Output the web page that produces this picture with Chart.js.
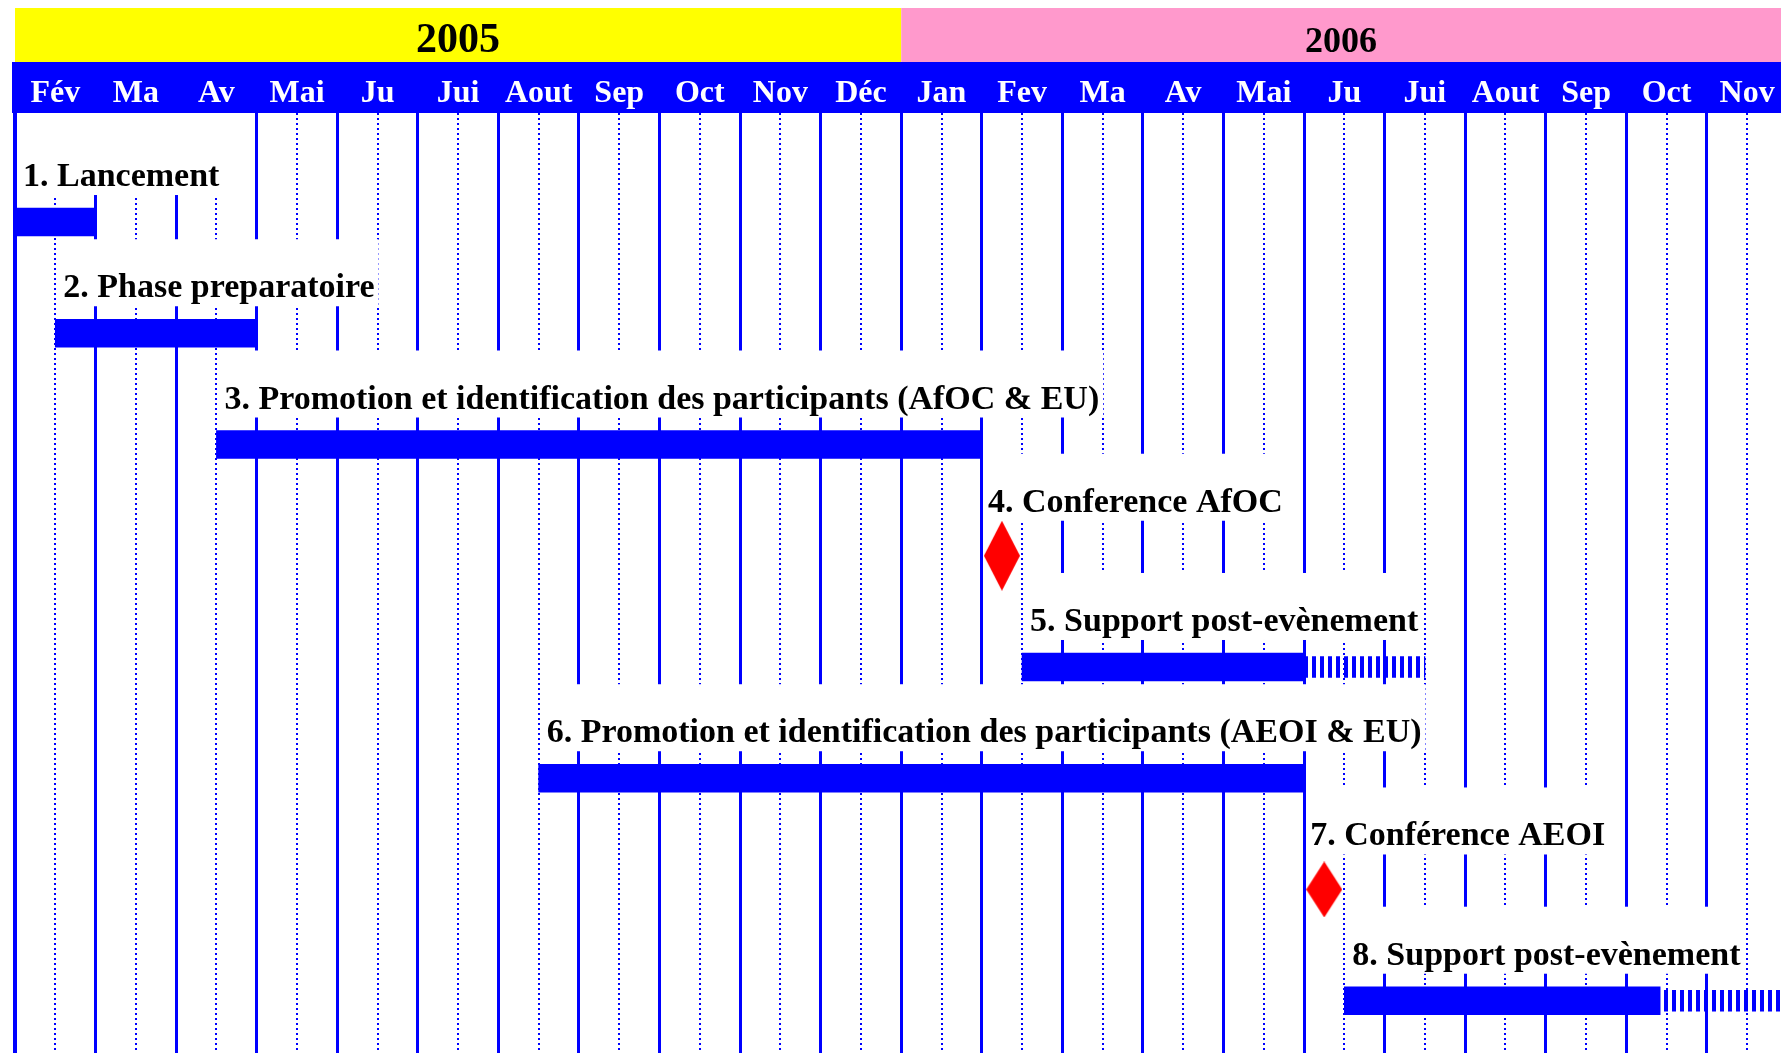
<!DOCTYPE html>
<html>
<head>
<meta charset="utf-8">
<script src="https://cdn.jsdelivr.net/npm/chart.js@4.4.1/dist/chart.umd.min.js"></script>
<style>
html,body{margin:0;padding:0;background:#fff;overflow:hidden}
canvas{display:block}
</style>
</head>
<body>
<canvas id="c" width="1781" height="1055"></canvas>
<script>
// ---------- data ----------
const months = ['Fév','Ma','Av','Mai','Ju','Jui','Aout','Sep','Oct','Nov','Déc',
                'Jan','Fev','Ma','Av','Mai','Ju','Jui','Aout','Sep','Oct','Nov'];
const years = ['2005', '2006'];
const yearStartMonth = [0, 11];
const taskNames = [
  '1. Lancement',
  '2. Phase preparatoire',
  '3. Promotion et identification des participants (AfOC & EU)',
  '4. Conference AfOC',
  '5. Support post-evènement',
  '6. Promotion et identification des participants (AEOI & EU)',
  '7. Conférence AEOI',
  '8. Support post-evènement'
];
// month offsets from 1 Feb 2005
const taskStart    = [0, 0.5, 2.5, null, 12.5, 6.5, null, 16.5];
const taskEnd      = [1, 3, 12, null, 16, 16, null, 20.42];
const extensionEnd = [null, null, null, null, 17.5, null, null, 22];
const milestoneAt  = [null, null, null, 12.25, null, null, 16.25, null];

// ---------- styles ----------
const BLUE = '#0000FF', RED = '#FF0000';
const yearColors = ['#FFFF00', '#FF99CC'];
const yearFontSize = [42, 36];
const SERIF = '"Liberation Serif", "Times New Roman", serif';

function diamond(w, h) {
  const c = document.createElement('canvas'); c.width = w; c.height = h;
  const g = c.getContext('2d'); g.fillStyle = RED; g.beginPath();
  g.moveTo(w / 2, 0); g.lineTo(w, h / 2); g.lineTo(w / 2, h); g.lineTo(0, h / 2);
  g.closePath(); g.fill();
  return c;
}
function stripes() {
  const c = document.createElement('canvas'); c.width = 8; c.height = 4;
  const g = c.getContext('2d'); g.fillStyle = BLUE; g.fillRect(0, 0, 4, 4);
  return g.createPattern(c, 'repeat');
}

const rows = taskNames.map((_, i) => i);
const solidData = rows.filter(i => taskStart[i] !== null).map(i => ({x: [taskStart[i], taskEnd[i]], y: i}));
const extData = rows.filter(i => extensionEnd[i] !== null).map(i => ({x: [taskEnd[i], extensionEnd[i]], y: i}));
const msData = rows.filter(i => milestoneAt[i] !== null).map(i => ({x: milestoneAt[i], y: i}));

function labelLayout(chart, i) {
  const ctx = chart.ctx, xs = chart.scales.x, ys = chart.scales.y;
  const cy = ys.getPixelForValue(i);
  const isMs = milestoneAt[i] !== null;
  const lx = isMs ? xs.getPixelForValue(milestoneAt[i]) - 14 : xs.getPixelForValue(taskStart[i]) + 8;
  const base = cy - (isMs ? 44 : 36);
  ctx.font = `bold 34px ${SERIF}`;
  const w = ctx.measureText(taskNames[i]).width;
  const boxLeft = isMs ? lx - 2 : xs.getPixelForValue(taskStart[i]) + 3;
  return {lx, base, w, boxLeft};
}

const ganttDecor = {
  id: 'ganttDecor',
  beforeDraw(chart) {
    const ctx = chart.ctx, xs = chart.scales.x, area = chart.chartArea;
    ctx.save();
    ctx.fillStyle = '#fff';
    ctx.fillRect(0, 0, chart.width, chart.height);
    // year band
    years.forEach((yr, k) => {
      const x0 = xs.getPixelForValue(yearStartMonth[k]);
      const x1 = k + 1 < years.length ? xs.getPixelForValue(yearStartMonth[k + 1]) : chart.width;
      ctx.fillStyle = yearColors[k];
      ctx.fillRect(x0, 8, x1 - x0, 54);
      ctx.fillStyle = '#000';
      ctx.font = `bold ${yearFontSize[k]}px ${SERIF}`;
      ctx.textAlign = 'center'; ctx.textBaseline = 'alphabetic';
      ctx.fillText(yr, (x0 + x1) / 2, 52);
    });
    // month band
    ctx.fillStyle = BLUE;
    ctx.fillRect(area.left - 3, 62, chart.width - area.left + 3, area.top - 62);
    ctx.fillStyle = '#fff';
    ctx.font = `bold 32px ${SERIF}`;
    ctx.textAlign = 'center'; ctx.textBaseline = 'alphabetic';
    months.forEach((m, i) => ctx.fillText(m, xs.getPixelForValue(i + 0.5), 102));
    ctx.restore();
  },
  beforeDatasetsDraw(chart) {
    const ctx = chart.ctx, area = chart.chartArea;
    ctx.save();
    rows.forEach(i => {
      const L = labelLayout(chart, i);
      const top = i === 0 ? area.top : L.base - 58;
      const bottom = L.base + 9;
      ctx.fillStyle = '#fff';
      ctx.fillRect(L.boxLeft, top, L.lx + L.w + 4 - L.boxLeft, bottom - top);
    });
    ctx.restore();
  },
  afterDatasetsDraw(chart) {
    const ctx = chart.ctx;
    ctx.save();
    rows.forEach(i => {
      const L = labelLayout(chart, i);
      ctx.fillStyle = '#000';
      ctx.font = `bold 34px ${SERIF}`;
      ctx.textAlign = 'left'; ctx.textBaseline = 'alphabetic';
      ctx.fillText(taskNames[i], L.lx, L.base);
    });
    ctx.restore();
  }
};

new Chart(document.getElementById('c'), {
  type: 'bar',
  data: {
    datasets: [
      {type: 'bar', indexAxis: 'y', data: solidData, backgroundColor: BLUE, borderWidth: 0,
       barThickness: 28, grouped: false, xAxisID: 'x', yAxisID: 'y', order: 2},
      {type: 'bar', indexAxis: 'y', data: extData, backgroundColor: stripes(), borderWidth: 0,
       barThickness: 21, grouped: false, xAxisID: 'x', yAxisID: 'y', order: 3},
      {type: 'scatter', data: msData, showLine: false, xAxisID: 'x', yAxisID: 'y',
       pointStyle: [diamond(36, 70), diamond(36, 56)], pointRadius: 1, pointBorderWidth: 0,
       order: 1}
    ]
  },
  options: {
    responsive: false,
    devicePixelRatio: 1,
    animation: false,
    events: [],
    layout: {autoPadding: false, padding: {top: 113, left: 15, right: 0, bottom: 2}},
    plugins: {legend: {display: false}, tooltip: {enabled: false}},
    scales: {
      x: {
        type: 'linear', position: 'bottom', min: 0, max: 21.92, offset: false,
        afterBuildTicks: s => { s.ticks = months.map((m, i) => ({value: i})); },
        ticks: {display: false},
        border: {display: false},
        grid: {color: BLUE, lineWidth: c => c.index === 0 ? 4 : 3, drawTicks: false, offset: false}
      },
      x2: {
        type: 'linear', position: 'bottom', min: 0, max: 21.92, offset: false,
        afterBuildTicks: s => { s.ticks = months.map((m, i) => ({value: i + 0.5})); },
        ticks: {display: false},
        border: {display: false, dash: [2, 3]},
        grid: {color: BLUE, lineWidth: 2, drawTicks: false, offset: false}
      },
      y: {
        type: 'linear', reverse: true, min: -0.98, max: 7.47, display: false, offset: false
      }
    }
  },
  plugins: [ganttDecor]
});
</script>
</body>
</html>
